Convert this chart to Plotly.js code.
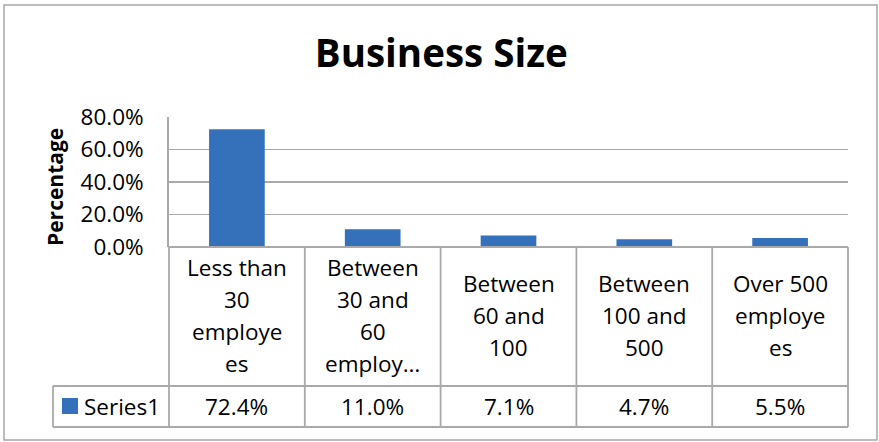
<!DOCTYPE html>
<html>
<head>
<meta charset="utf-8">
<script src="https://cdn.plot.ly/plotly-3.0.1.min.js"></script>
<style>html,body{margin:0;padding:0;background:#fff;}#chart{width:879px;height:442px;}</style>
</head>
<body>
<div id="chart"></div>
<script>
// ---- data ----
const categories = ["Less than 30 employees", "Between 30 and 60 employees", "Between 60 and 100", "Between 100 and 500", "Over 500 employees"];
const categoryLabelLines = [
  ["Less than", "30", "employe", "es"],
  ["Between", "30 and", "60", "employ…"],
  ["Between", "60 and", "100"],
  ["Between", "100 and", "500"],
  ["Over 500", "employe", "es"]
];
const seriesName = "Series1";
const values = [72.4, 11.0, 7.1, 4.7, 5.5];
const yTicks = [0, 20, 40, 60, 80];
const yTickText = yTicks.map(v => v.toFixed(1) + "%");

// ---- layout constants (pixels) ----
const W = 879, H = 442;
const L = 169, R = 848, T = 117, B = 247;
const pw = R - L, ph = B - T;
const px = x => (x - L) / pw;       // pixel x -> paper
const py = y => (B - y) / ph;       // pixel y -> paper
const gray = "#A9A9A9";
const barColor = "#3571BA";
const font = "Open Sans, Noto Sans, sans-serif";
const fs = 22.5;

const rowCatBottom = 386, rowValBottom = 427, legendLeft = 53;

const shapes = [];
function line(x0, y0, x1, y1) {
  shapes.push({type: "line", xref: "paper", yref: "paper", x0: x0, x1: x1, y0: y0, y1: y1,
    line: {color: gray, width: 1.8}, layer: "above"});
}
// table horizontal lines
line(0, py(B), 1, py(B));
line(px(legendLeft), py(rowCatBottom), 1, py(rowCatBottom));
line(px(legendLeft), py(rowValBottom), 1, py(rowValBottom));
// table vertical lines
line(0, py(B), 0, py(rowValBottom));
line(1, py(B), 1, py(rowValBottom));
for (let i = 0; i < categories.length - 1; i++) {
  shapes.push({type: "line", xref: "x", yref: "paper", x0: i + 0.5, x1: i + 0.5, y0: py(B), y1: py(rowValBottom),
    line: {color: gray, width: 1.8}, layer: "above"});
}
line(px(legendLeft), py(rowCatBottom), px(legendLeft), py(rowValBottom));
// outer chart border
shapes.push({type: "rect", xref: "paper", yref: "paper", x0: px(4), x1: px(877), y0: py(5), y1: py(440),
  line: {color: "#A6A6A6", width: 1.5}, fillcolor: "rgba(0,0,0,0)", layer: "below"});
// legend swatch
shapes.push({type: "rect", xref: "paper", yref: "paper", x0: px(62), x1: px(78), y0: py(398), y1: py(414),
  line: {width: 0}, fillcolor: barColor});

const annotations = [];
const lineGap = 32;
const catCenter = (B + rowCatBottom) / 2 - 1;
categoryLabelLines.forEach((lines, i) => {
  const n = lines.length;
  lines.forEach((t, j) => {
    annotations.push({xref: "x", yref: "paper", x: categories[i], y: py(catCenter + (j - (n - 1) / 2) * lineGap),
      text: t, showarrow: false, xanchor: "center", yanchor: "middle",
      font: {family: font, size: fs, color: "#000"}});
  });
});
const valCenter = (rowCatBottom + rowValBottom) / 2;
values.forEach((v, i) => {
  annotations.push({xref: "x", yref: "paper", x: categories[i], y: py(valCenter),
    text: v.toFixed(1) + "%", showarrow: false, xanchor: "center", yanchor: "middle",
    font: {family: font, size: fs, color: "#000"}});
});
annotations.push({xref: "paper", yref: "paper", x: px(82), y: py(valCenter), text: seriesName,
  showarrow: false, xanchor: "left", yanchor: "middle", font: {family: font, size: fs, color: "#000"}});
annotations.push({xref: "paper", yref: "paper", x: px(55), y: py(187), text: "<b>Percentage</b>",
  textangle: -90, showarrow: false, xanchor: "center", yanchor: "middle",
  font: {family: font, size: 21, color: "#000"}});

const data = [{
  type: "bar", x: categories, y: values, name: seriesName, width: 0.41,
  marker: {color: barColor, line: {width: 0}}, hoverinfo: "x+y"
}];

const layout = {
  width: W, height: H,
  margin: {l: L, r: W - R, t: T, b: H - B, pad: 0},
  paper_bgcolor: "#fff", plot_bgcolor: "#fff",
  showlegend: false,
  title: {text: "<b>Business Size</b>", font: {family: font, size: 38.5, color: "#000"},
    xref: "container", x: 0.502, xanchor: "center", yref: "container", y: 1 - 54 / H, yanchor: "middle"},
  xaxis: {type: "category", range: [-0.5, categories.length - 0.5], showticklabels: false,
    showgrid: false, zeroline: false, showline: false, ticks: "", fixedrange: true},
  yaxis: {range: [0, 80], tickmode: "array", tickvals: yTicks, ticktext: yTickText,
    showgrid: true, gridcolor: gray, gridwidth: 1.8, zeroline: false,
    showline: true, linecolor: gray, linewidth: 1.8, ticks: "", ticklabelstandoff: 19,
    tickfont: {family: font, size: fs, color: "#000"}, fixedrange: true},
  shapes: shapes,
  annotations: annotations
};

Plotly.newPlot("chart", data, layout, {displayModeBar: false, staticPlot: true});
</script>
</body>
</html>
